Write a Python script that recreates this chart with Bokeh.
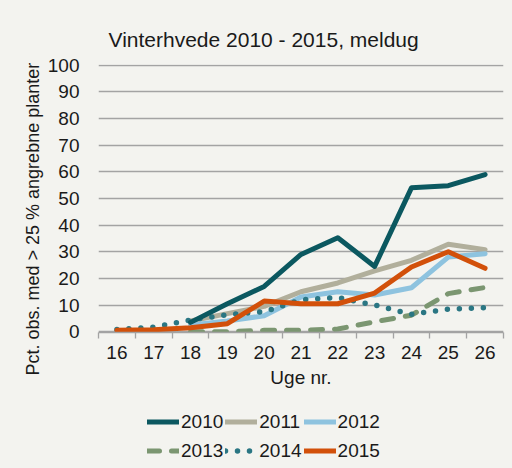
import math
from bokeh.plotting import figure
from bokeh.layouts import column
from bokeh.models import (Range1d, FixedTicker, Legend, LegendItem, Title)
from bokeh.embed import file_html
from bokeh.resources import INLINE

nan = math.nan

# ---- data ----
weeks = [16, 17, 18, 19, 20, 21, 22, 23, 24, 25, 26]
week_labels = ["16", "17", "18", "19", "20", "21", "22", "23", "24", "25", "26"]
y2010 = [nan, nan, 3.5, 10.5, 17.0, 29.0, 35.3, 24.5, 54.0, 54.8, 59.0]
y2011 = [nan, nan, 4.0, 6.8, 9.5, 15.0, 18.3, 22.8, 26.8, 32.8, 30.8]
y2012 = [nan, nan, 2.5, 4.0, 6.0, 13.0, 15.0, 13.8, 16.5, 28.0, 29.3]
y2013 = [nan, nan, 0.0, 0.0, 0.5, 0.5, 1.0, 3.7, 6.2, 14.3, 16.6]
y2014 = [0.8, 1.7, 4.4, 6.4, 7.5, 12.0, 12.8, 10.0, 6.5, 8.5, 9.0]
y2015 = [0.5, 0.7, 1.5, 3.0, 11.5, 10.5, 10.5, 14.5, 24.3, 30.0, 23.8]
series_names = ["2010", "2011", "2012", "2013", "2014", "2015"]
y_ticks = [0, 10, 20, 30, 40, 50, 60, 70, 80, 90, 100]

BG = "#F3F3EF"
FONT = "Liberation Sans"
TXT = "#1a1a1a"
GRID = "#A3A3A3"

p = figure(width=512, height=400, output_backend="svg", toolbar_location=None,
           x_range=Range1d(15.5, 26.5), y_range=Range1d(-0.3, 100.3),
           min_border_left=98, min_border_right=9, min_border_top=64,
           min_border_bottom=68)
p.background_fill_color = BG
p.border_fill_color = BG
p.outline_line_color = None

p.title.text = "Vinterhvede 2010 - 2015, meldug"
p.title.align = "left"
p.title.offset = 10
p.title.text_font = FONT
p.title.text_font_size = "21px"
p.title.text_font_style = "normal"
p.title.text_color = TXT
p.title.standoff = 28

# grid
p.xgrid.grid_line_color = None
p.ygrid.grid_line_color = GRID
p.ygrid.grid_line_width = 1.3
p.yaxis.ticker = FixedTicker(ticks=y_ticks)

# y axis
p.yaxis.axis_line_color = None
p.yaxis.major_tick_line_color = None
p.yaxis.minor_tick_line_color = None
p.yaxis.major_label_standoff = 13
p.yaxis.major_label_text_font = FONT
p.yaxis.major_label_text_font_size = "19px"
p.yaxis.major_label_text_color = TXT

ylab = Title(text="Pct. obs. med > 25 % angrebne planter", align="left", offset=-43,
             text_font=FONT, text_font_size="18px", text_font_style="normal",
             text_color=TXT, standoff=4)
p.add_layout(ylab, "left")

# x axis
p.xaxis.ticker = FixedTicker(ticks=weeks, minor_ticks=[w - 0.5 for w in weeks] + [26.5])
p.xaxis.major_label_overrides = {w: l for w, l in zip(weeks, week_labels)}
p.xaxis.axis_line_color = GRID
p.xaxis.axis_line_width = 1.3
p.xaxis.major_tick_line_color = None
p.xaxis.minor_tick_line_color = GRID
p.xaxis.minor_tick_line_width = 1.3
p.xaxis.minor_tick_in = 0
p.xaxis.minor_tick_out = 6
p.xaxis.major_label_standoff = 7
p.xaxis.major_label_text_font = FONT
p.xaxis.major_label_text_font_size = "19px"
p.xaxis.major_label_text_color = TXT
p.xaxis.axis_label = "Uge nr."
p.xaxis.axis_label_standoff = 5
p.xaxis.axis_label_text_font = FONT
p.xaxis.axis_label_text_font_size = "19px"
p.xaxis.axis_label_text_font_style = "normal"
p.xaxis.axis_label_text_color = TXT

styles = [
    (y2010, "#0B5860", "solid", 5),
    (y2011, "#B1AF9C", "solid", 5),
    (y2012, "#8EC3DF", "solid", 5),
    (y2013, "#7B9671", "12 12", 5),
    (y2014, "#2A7683", "0 12", 5.5),
    (y2015, "#D2500A", "solid", 5),
]
draw_order = [1, 2, 3, 4, 0, 5]
for i in draw_order:
    ys, col, dash, lw = styles[i]
    p.line(weeks, ys, line_color=col, line_width=lw, line_dash=dash,
           line_cap="round", line_join="round")

# legend strip below the chart (own figure so the legend is not clipped)
p2 = figure(width=512, height=68, output_backend="svg", toolbar_location=None,
            x_range=Range1d(0, 1), y_range=Range1d(0, 1),
            x_axis_location=None, y_axis_location=None,
            min_border_left=98, min_border_right=9, min_border_top=0, min_border_bottom=0)
p2.background_fill_color = BG
p2.border_fill_color = BG
p2.outline_line_color = None
p2.xgrid.grid_line_color = None
p2.ygrid.grid_line_color = None
items = []
for i in range(6):
    ys, col, dash, lw = styles[i]
    # off-screen placeholder renderer that only supplies the legend swatch style
    r = p2.line([5, 6], [5, 6], line_color=col, line_width=lw, line_dash=dash,
                line_cap="round", line_join="round")
    items.append(LegendItem(label=series_names[i], renderers=[r]))
legend = Legend(items=items, orientation="horizontal", ncols=3,
                location=(49, 4), padding=0, margin=0, spacing=2,
                glyph_width=32, glyph_height=27, label_height=27, label_standoff=2,
                label_text_font=FONT, label_text_font_size="19px",
                label_text_color=TXT, background_fill_alpha=0,
                border_line_color=None)
p2.add_layout(legend, "center")

layout = column(p, p2, spacing=0, styles={"background-color": BG})
open("out.html", "w").write(file_html(layout, INLINE))
